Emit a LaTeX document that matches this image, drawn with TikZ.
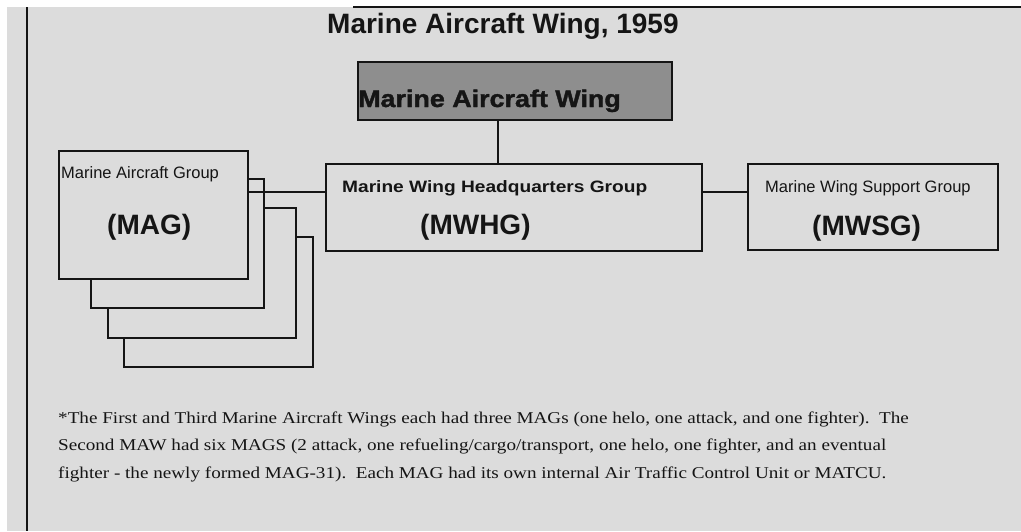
\documentclass[tikz,border=0pt]{standalone}
\usepackage{fontspec}
\usepackage{graphicx}
\setmainfont{Liberation Serif}
\newfontfamily\arialf{Liberation Sans}
\newfontfamily\arialheavy{Liberation Sans}[FakeBold=1.5]
\definecolor{bggray}{HTML}{DCDCDC}
\definecolor{wingfill}{HTML}{8E8E8E}
\definecolor{ink}{HTML}{151515}
\begin{document}
\begin{tikzpicture}[x=1pt,y=-1pt,
  box/.style={draw=ink, line width=1.6pt, inner sep=0pt, anchor=north west},
  orgbox/.style={box, fill=bggray},
  conn/.style={draw=ink, line width=1.6pt},
  lbl/.style={anchor=base west, inner sep=0pt, text=ink},
  note/.style={anchor=base west, inner sep=0pt, text=ink, font=\fontsize{16.5}{18}\selectfont}]
\useasboundingbox (0,0) rectangle (1021,531);
\fill[white] (0,0) rectangle (1021,531);
\fill[bggray] (7,7) rectangle (1021,531);
\draw[ink, line width=1.4pt] (353,7) -- (1021,7);
\draw[ink, line width=1.6pt] (27,7) -- (27,531);

% title
\node[lbl, font=\arialf\bfseries\fontsize{28}{32}\selectfont] (title) at (327,33) {Marine Aircraft Wing, 1959};

% Marine Aircraft Wing box
\node[box, fill=wingfill, minimum width=314pt, minimum height=58pt] (maw) at (357,61) {};
\node[lbl, font=\arialheavy\bfseries\fontsize{24}{28}\selectfont] (mawt) at (358,107) {\scalebox{1.12}[1]{Marine Aircraft Wing}};

% MAG stack
\node[orgbox, minimum width=189pt, minimum height=130pt] (mag4) at (123,236) {};
\node[orgbox, minimum width=188pt, minimum height=130pt] (mag3) at (107,207) {};
\node[orgbox, minimum width=173pt, minimum height=129pt] (mag2) at (90,178) {};
\node[orgbox, minimum width=189pt, minimum height=128pt] (mag1) at (58,150) {};
\node[lbl, font=\arialf\fontsize{16.5}{18}\selectfont] (magt) at (61,178) {Marine Aircraft Group};
\node[lbl, font=\arialf\bfseries\fontsize{28}{32}\selectfont] (maga) at (107,234) {(MAG)};

% MWHG
\node[orgbox, minimum width=376pt, minimum height=87pt] (mwhg) at (325,163) {};
\node[lbl, font=\arialf\bfseries\fontsize{16.5}{18}\selectfont] (mwhgt) at (342,192) {\scalebox{1.16}[1]{Marine Wing Headquarters Group}};
\node[lbl, font=\arialf\bfseries\fontsize{28}{32}\selectfont] (mwhga) at (420,234) {(MWHG)};

% MWSG
\node[orgbox, minimum width=250pt, minimum height=86pt] (mwsg) at (747,163) {};
\node[lbl, font=\arialf\fontsize{16.5}{18}\selectfont] (mwsgt) at (765,192) {Marine Wing Support Group};
\node[lbl, font=\arialf\bfseries\fontsize{28}{32}\selectfont] (mwsga) at (812,235) {(MWSG)};

% connectors
\coordinate (cy) at (0,192);
\coordinate (cx) at (498,0);
\draw[conn] (mag1.east |- cy) -- (mwhg.west |- cy);
\draw[conn] (mwhg.east |- cy) -- (mwsg.west |- cy);
\draw[conn] (maw.south -| cx) -- (mwhg.north -| cx);

% footnote
\node[note] (n1) at (58,423) {\scalebox{1.16}[1]{*The First and Third Marine Aircraft Wings each had three MAGs (one helo, one attack, and one fighter).\ \ The}};
\node[note] (n2) at (58,450) {\scalebox{1.16}[1]{Second MAW had six MAGS (2 attack, one refueling/cargo/transport, one helo, one fighter, and an eventual}};
\node[note] (n3) at (58,478) {\scalebox{1.16}[1]{fighter - the newly formed MAG-31).\ \ Each MAG had its own internal Air Traffic Control Unit or MATCU.}};
\end{tikzpicture}
\end{document}
